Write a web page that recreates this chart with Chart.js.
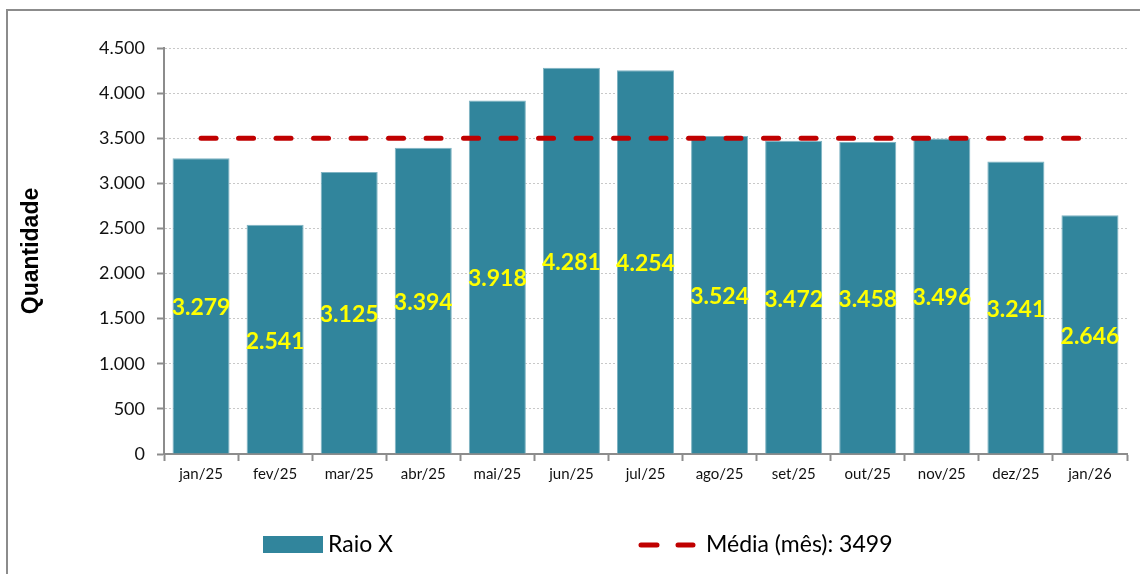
<!DOCTYPE html>
<html>
<head>
<meta charset="utf-8">
<script src="https://cdn.jsdelivr.net/npm/chart.js@4"></script>
<style>
  html, body { margin: 0; padding: 0; background: #fff; }
  body { width: 1140px; height: 574px; overflow: hidden; position: relative; }
  #frame { position: absolute; left: 6px; top: 9px; width: 1160px; height: 600px; border: 2px solid #8c8c8c; box-sizing: border-box; }
  #wrap { position: absolute; left: 0; top: 0; width: 1140px; height: 574px; }
</style>
</head>
<body>
<div id="frame"></div>
<div id="wrap"><canvas id="raioChart" width="1140" height="574"></canvas></div>
<script>
// dados
var meses = ["jan/25", "fev/25", "mar/25", "abr/25", "mai/25", "jun/25", "jul/25", "ago/25", "set/25", "out/25", "nov/25", "dez/25", "jan/26"];
var raioX = [3279, 2541, 3125, 3394, 3918, 4281, 4254, 3524, 3472, 3458, 3496, 3241, 2646];
var media = 3499;
var mediaLinha = meses.map(function(){ return media; });
var yTicks = [0, 500, 1000, 1500, 2000, 2500, 3000, 3500, 4000, 4500];

var tealColor = "#31859c";
var redColor = "#c00000";

function fmt(n){
    return n.toString().replace(/\B(?=(\d{3})+(?!\d))/g, ".");
}

// rotulos amarelos no meio das barras
var barLabels = {
    id: "barLabels",
    afterDatasetsDraw: function(chart){
        var ctx = chart.ctx;
        var meta = chart.getDatasetMeta(1); // dataset das barras
        ctx.save();
        ctx.font = "bold 23px Lato";
        ctx.fillStyle = "#ffff00";
        ctx.textAlign = "center";
        ctx.textBaseline = "middle";
        meta.data.forEach(function(bar, i){
            var mid = (bar.y + bar.base) / 2;
            ctx.fillText(fmt(raioX[i]), bar.x, mid + 2);
        });
        ctx.restore();
    }
};

// legenda desenhada embaixo
var bottomLegend = {
    id: "bottomLegend",
    afterDraw: function(chart){
        var ctx = chart.ctx;
        var ds = chart.data.datasets;
        var y = 545;
        ctx.save();
        ctx.font = "23px Lato";
        ctx.textBaseline = "middle";
        // barra
        ctx.fillStyle = tealColor;
        ctx.fillRect(263, 536, 60, 17);
        ctx.fillStyle = "#000";
        ctx.fillText(ds[1].label, 328, y);
        // linha
        ctx.strokeStyle = redColor;
        ctx.lineWidth = 5;
        ctx.lineCap = "round";
        ctx.beginPath();
        ctx.moveTo(641, y); ctx.lineTo(657, y);
        ctx.moveTo(678, y); ctx.lineTo(693, y);
        ctx.stroke();
        ctx.fillText(ds[0].label, 706, y);
        ctx.restore();
    }
};

var chart = new Chart(document.getElementById("raioChart"), {
    type: "bar",
    data: {
        labels: meses,
        datasets: [{
            type: "line",
            label: "Média (mês): " + media,
            data: mediaLinha,
            borderColor: redColor,
            borderWidth: 5,
            borderDash: [15, 22.5],
            borderCapStyle: "round",
            pointRadius: 0,
            fill: false,
            order: 0
        }, {
            label: "Raio X",
            data: raioX,
            backgroundColor: tealColor,
            borderColor: "#7fb4c3",
            borderWidth: 1,
            barPercentage: 0.77,
            categoryPercentage: 1,
            order: 1
        }]
    },
    options: {
        responsive: false,
        animation: false,
        layout: { padding: { left: 8, top: 48, right: 13, bottom: 0 } },
        plugins: {
            legend: { display: false },
            tooltip: { enabled: false }
        },
        scales: {
            x: {
                grid: { drawOnChartArea: false, tickLength: 7, tickColor: "#8c8c8c", tickWidth: 2, offset: true },
                border: { color: "#8c8c8c", width: 2 },
                ticks: { color: "#111", font: { family: "Lato", size: 15 }, padding: 4 },
                afterFit: function(scale){ scale.height = 120; }
            },
            y: {
                min: 0,
                max: 4500,
                afterBuildTicks: function(scale){
                    scale.ticks = yTicks.map(function(v){ return { value: v }; });
                },
                grid: { color: "#c8c8c8", lineWidth: 1, tickLength: 7, tickColor: "#8c8c8c", tickWidth: 2, tickBorderDash: [] },
                border: { color: "#8c8c8c", width: 2, dash: [2, 2] },
                ticks: {
                    color: "#111",
                    font: { family: "Lato", size: 18 },
                    padding: 12,
                    callback: function(v){ return fmt(v); }
                },
                title: {
                    display: true,
                    text: "Quantidade",
                    color: "#000",
                    font: { family: "Liberation Sans", size: 23, weight: "bold" },
                    padding: { top: 10, bottom: 0 }
                },
                afterFit: function(scale){ scale.width = 156; }
            }
        }
    },
    plugins: [barLabels, bottomLegend]
});
</script>
</body>
</html>
